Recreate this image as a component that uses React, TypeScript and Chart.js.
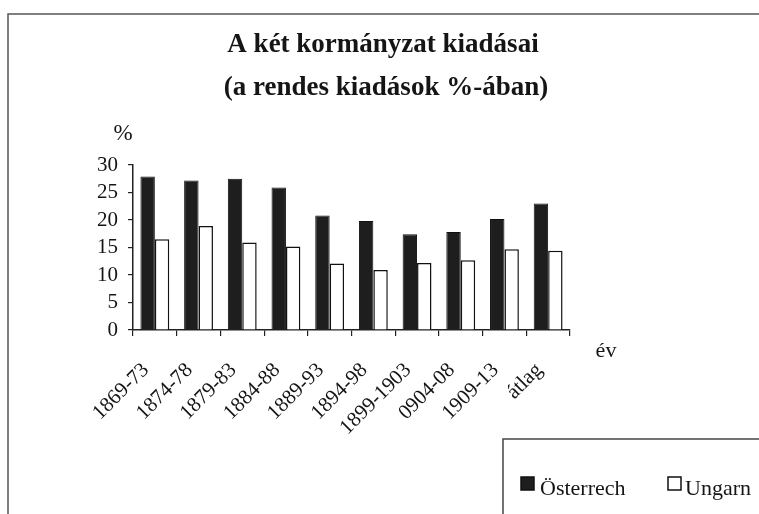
import React, { useEffect, useRef } from "react";
import { Chart, registerables } from "chart.js";

Chart.register(...registerables);

const categories = ["1869-73", "1874-78", "1879-83", "1884-88", "1889-93", "1894-98", "1899-1903", "0904-08", "1909-13", "átlag"];
const osterreich = [27.9, 27.2, 27.5, 25.9, 20.8, 19.8, 17.4, 17.8, 20.2, 23.0];
const ungarn = [16.5, 18.9, 15.9, 15.2, 12.1, 10.9, 12.2, 12.7, 14.7, 14.4];
const seriesLabels = ["Österrech", "Ungarn"];
const titleLines = ["A két kormányzat kiadásai", "(a rendes kiadások %-ában)"];
const yUnit = "%";
const xUnit = "év";
const yMin = 0;
const yMax = 30;
const yStep = 5;

const FONT = "'Liberation Serif', 'Times New Roman', serif";
const INK = "#151515";

const decorPlugin = {
  id: "decor",
  afterDraw(chart: any) {
    const ctx = chart.ctx as CanvasRenderingContext2D;
    const { left, right, top, bottom } = chart.chartArea;
    ctx.save();
    // outer frame
    ctx.strokeStyle = "#555";
    ctx.lineWidth = 1.5;
    ctx.beginPath();
    ctx.moveTo(8, 520);
    ctx.lineTo(8, 14);
    ctx.lineTo(770, 14);
    ctx.stroke();

    // title
    ctx.fillStyle = INK;
    ctx.font = `bold 27px ${FONT}`;
    ctx.textAlign = "center";
    ctx.textBaseline = "middle";
    ctx.fillText(titleLines[0], 383, 45);
    ctx.fillText(titleLines[1], 386, 88);

    // axis unit labels
    ctx.font = `23px ${FONT}`;
    ctx.fillText(yUnit, left - 10, top - 31);
    ctx.font = `22px ${FONT}`;
    ctx.fillText(xUnit, right + 36, bottom + 21);

    // legend frame
    ctx.strokeStyle = "#444";
    ctx.lineWidth = 1.5;
    ctx.beginPath();
    ctx.moveTo(503, 520);
    ctx.lineTo(503, 439);
    ctx.lineTo(770, 439);
    ctx.stroke();

    // legend entries
    const entries = [
      { x: 521, tx: 540 },
      { x: 668, tx: 685 },
    ];
    chart.data.datasets.forEach((ds: any, i: number) => {
      const e = entries[i];
      ctx.fillStyle = ds.backgroundColor;
      ctx.fillRect(e.x, 477, 13, 13);
      ctx.strokeStyle = "#111";
      ctx.lineWidth = 1.5;
      ctx.strokeRect(e.x, 477, 13, 13);
      ctx.fillStyle = INK;
      ctx.font = `22px ${FONT}`;
      ctx.textAlign = "left";
      ctx.textBaseline = "alphabetic";
      ctx.fillText(ds.label, e.tx, 495);
    });
    ctx.restore();
  },
};

export default function App() {
  const ref = useRef<HTMLCanvasElement | null>(null);
  useEffect(() => {
    if (!ref.current) return;
    const chart = new Chart(ref.current, {
      type: "bar",
      data: {
        labels: categories,
        datasets: [
          {
            label: seriesLabels[0],
            data: osterreich,
            backgroundColor: "#1e1e1e",
            borderColor: "#111",
            borderWidth: 1,
            categoryPercentage: 0.66,
            barPercentage: 1,
          },
          {
            label: seriesLabels[1],
            data: ungarn,
            backgroundColor: "#ffffff",
            borderColor: "#111",
            borderWidth: 1.5,
            categoryPercentage: 0.66,
            barPercentage: 1,
          },
        ],
      },
      options: {
        responsive: false,
        animation: false,
        devicePixelRatio: 1,
        layout: { padding: { left: 0, right: 189, top: 165, bottom: 0 } },
        plugins: {
          legend: { display: false },
          tooltip: { enabled: false },
          title: { display: false },
        },
        scales: {
          x: {
            offset: true,
            grid: {
              offset: true,
              drawOnChartArea: false,
              drawTicks: true,
              tickLength: 6,
              color: "#222",
              lineWidth: 1.2,
            },
            border: { display: true, color: "#222", width: 1.5 },
            ticks: {
              color: INK,
              font: { family: FONT, size: 21 },
              maxRotation: 45,
              minRotation: 45,
              autoSkip: false,
              labelOffset: -9,
              padding: 22,
            },
            afterFit(scale: any) {
              scale.height = 184;
            },
          },
          y: {
            min: yMin,
            max: yMax,
            grid: {
              drawOnChartArea: false,
              drawTicks: true,
              tickLength: 5,
              color: "#222",
              lineWidth: 1.2,
            },
            border: { display: true, color: "#222", width: 1.5 },
            ticks: {
              stepSize: yStep,
              autoSkip: false,
              color: INK,
              font: { family: FONT, size: 21 },
              padding: 10,
            },
            afterFit(scale: any) {
              scale.width = 133;
            },
          },
        },
      },
      plugins: [decorPlugin],
    });
    return () => chart.destroy();
  }, []);
  return (
    <div style={{ position: "absolute", left: 0, top: 0, width: 759, height: 514, background: "#fff" }}>
      <canvas ref={ref} width={759} height={514} style={{ display: "block", width: 759, height: 514 }} />
    </div>
  );
}
